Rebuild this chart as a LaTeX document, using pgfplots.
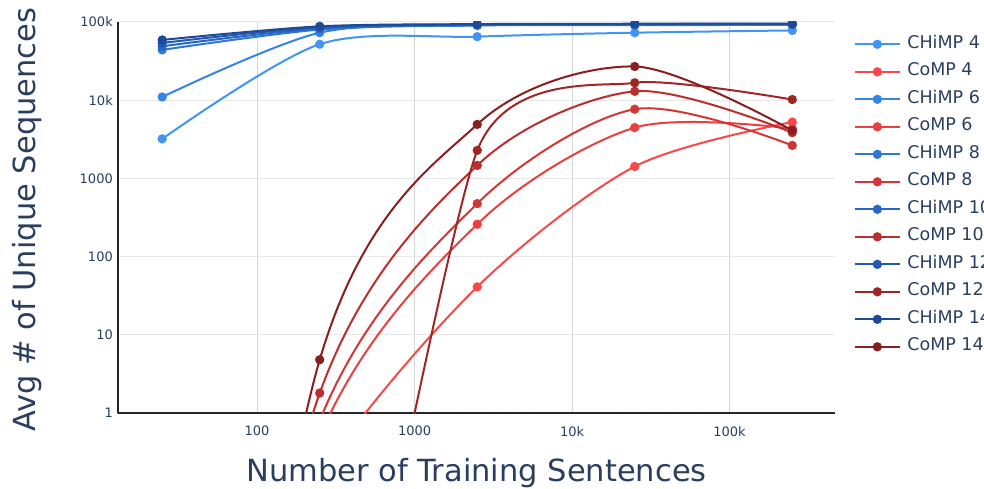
\documentclass[border=0pt]{standalone}
\usepackage{pgfplots}
\pgfplotsset{compat=1.18}
\usepackage{fontspec}
\setmainfont{DejaVu Sans}
\definecolor{txt}{RGB}{42,63,95}
\definecolor{bA}{RGB}{64,148,248}
\definecolor{bB}{RGB}{54,132,232}
\definecolor{bC}{RGB}{46,118,216}
\definecolor{bD}{RGB}{38,102,198}
\definecolor{bE}{RGB}{32,88,178}
\definecolor{bF}{RGB}{28,74,152}
\definecolor{rA}{RGB}{250,72,72}
\definecolor{rB}{RGB}{236,62,62}
\definecolor{rC}{RGB}{212,54,54}
\definecolor{rD}{RGB}{186,46,46}
\definecolor{rE}{RGB}{160,38,38}
\definecolor{rF}{RGB}{136,30,30}
\begin{document}
\begin{tikzpicture}
\useasboundingbox (0,0) rectangle (984pt,488pt);
\clip (0,0) rectangle (984pt,488pt);
\begin{axis}[
  at={(118pt,75pt)}, anchor=south west,
  scale only axis, width=717pt, height=391pt,
  xmode=log, ymode=log,
  xmin=13.1, xmax=467000, ymin=1, ymax=100000,
  xtick={100,1000,10000,100000},
  xticklabels={100,1000,10k,100k},
  ytick={1,10,100,1000,10000,100000},
  yticklabels={1,10,100,1000,10k,100k},
  minor tick num=0,
  major tick length=0pt,
  axis x line=bottom, axis y line=left,
  axis line style={-, line width=1.2pt, black!85},
  grid=major,
  major x grid style={line width=1pt, black!16},
  major y grid style={line width=1pt, black!9},
  /pgf/number format/assume math mode=true,
  tick label style={font=\fontsize{13}{15}\selectfont, text=txt, inner sep=0pt},
  xticklabel style={anchor=north, yshift=-13pt},
  yticklabel style={anchor=east, xshift=-5pt},
  xlabel={Number of Training Sentences},
  ylabel={Avg \# of Unique Sequences},
  label style={font=\fontsize{30.5}{34}\selectfont, text=txt},
  xlabel style={at={(axis description cs:0.5,-0.153)}, anchor=center},
  ylabel style={at={(axis description cs:-0.127,0.494)}, anchor=center},
  clip marker paths=true,
  every axis plot/.append style={line width=2pt, smooth, mark=*, mark size=3.6pt},
  legend cell align=left,
  legend style={at={(axis description cs:1.0225,0.969)}, anchor=north west,
    draw=none, fill=none, font=\fontsize{17.5}{20}\selectfont, text=txt,
    row sep=11.5pt, column sep=7pt,
    nodes={inner sep=0pt, text height=12pt, text depth=4pt}},
  legend image code/.code={\draw[mark repeat=2,mark phase=2,#1] plot coordinates {(0pt,0pt) (22pt,0pt) (44pt,0pt)};},
]
\addplot[color=bA] coordinates {(25,3200) (250,52000) (2500,65000) (25000,73000) (250000,78000)};
\addlegendentry{CHiMP 4}
\addplot[color=rA] coordinates {(25,0.00004) (250,0.16) (2500,41) (25000,1420) (250000,5250)};
\addlegendentry{CoMP 4}
\addplot[color=bB] coordinates {(25,11000) (250,73000) (2500,90000) (25000,91000) (250000,92000)};
\addlegendentry{CHiMP 6}
\addplot[color=rB] coordinates {(25,1e-7) (250,0.5) (2500,259) (25000,4460) (250000,4330)};
\addlegendentry{CoMP 6}
\addplot[color=bC] coordinates {(25,44000) (250,80000) (2500,91000) (25000,92000) (250000,93000)};
\addlegendentry{CHiMP 8}
\addplot[color=rC] coordinates {(25,5e-8) (250,0.8) (2500,476) (25000,7670) (250000,2640)};
\addlegendentry{CoMP 8}
\addplot[color=bD] coordinates {(25,49000) (250,83000) (2500,92000) (25000,93000) (250000,94000)};
\addlegendentry{CHiMP 10}
\addplot[color=rD] coordinates {(25,1e-8) (250,1.8) (2500,1466) (25000,13000) (250000,3850)};
\addlegendentry{CoMP 10}
\addplot[color=bE] coordinates {(25,54000) (250,86000) (2500,93000) (25000,94000) (250000,95000)};
\addlegendentry{CHiMP 12}
\addplot[color=rE, tension=0.35] coordinates {(250,1e-6) (2500,2280) (25000,16700) (250000,10200)};
\addlegendentry{CoMP 12}
\addplot[color=bF] coordinates {(25,59000) (250,88000) (2500,94000) (25000,95000) (250000,95000)};
\addlegendentry{CHiMP 14}
\addplot[color=rF] coordinates {(25,1e-10) (250,4.8) (2500,4900) (25000,27000) (250000,4100)};
\addlegendentry{CoMP 14}
\end{axis}
\end{tikzpicture}
\end{document}
